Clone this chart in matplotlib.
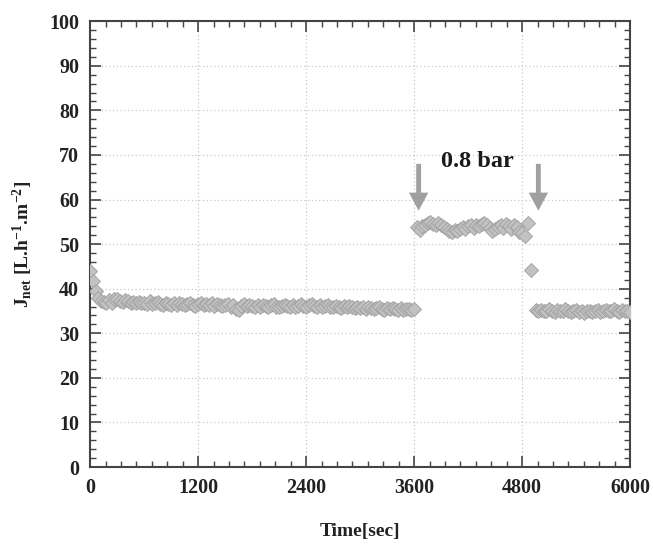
import numpy as np
import matplotlib
matplotlib.use("Agg")
import matplotlib.pyplot as plt
from matplotlib.ticker import MultipleLocator, AutoMinorLocator

# ---- data ----
step = 30
t1_start = 0
j1 = [44.0, 41.8, 39.5, 38.0, 37.3, 37.0, 36.8, 37.4, 36.9, 37.6,
      37.8, 37.3, 37.0, 37.5, 37.2, 36.9, 37.1, 36.8, 37.0, 36.7,
      36.9, 36.6, 37.2, 36.5, 36.8, 37.0, 36.6, 36.4, 36.9, 36.5,
      36.3, 36.7, 36.4, 36.8, 36.5, 36.3, 36.6, 36.9, 36.4, 36.2,
      36.5, 36.7, 36.3, 36.6, 36.4, 36.8, 36.2, 36.5, 36.3, 36.1,
      36.4, 36.6, 36.0, 36.3, 35.5, 35.2, 36.2, 36.5, 36.1, 36.4,
      36.2, 35.9, 36.3, 36.0, 36.4, 36.1, 35.8, 36.3, 36.5, 36.0,
      35.8, 36.2, 36.4, 36.1, 35.9, 36.3, 36.0, 36.2, 36.5, 36.1,
      35.9, 36.4, 36.6, 36.2, 36.0, 36.3, 35.9, 36.1, 36.4, 36.0,
      35.8, 36.2, 36.0, 35.7, 36.1, 35.9, 36.2, 35.8, 35.6, 36.0,
      35.7, 35.9, 35.5, 35.8, 35.6, 35.4, 35.7, 35.9, 35.5, 35.3,
      35.6, 35.4, 35.7, 35.5, 35.2, 35.6, 35.3, 35.5, 35.4, 35.2, 35.4]
t2_start = 3630
j2 = [53.8, 53.2, 54.0, 54.4, 54.8, 55.0, 54.6, 54.2, 54.8, 54.3,
      53.8, 53.4, 53.0, 52.7, 53.2, 53.0, 53.5, 53.8, 53.4, 54.0,
      54.2, 53.7, 54.4, 54.0, 54.6, 54.8, 54.2, 53.6, 53.0, 53.4,
      53.9, 54.2, 53.6, 54.5, 54.0, 53.5, 54.3, 53.8, 52.8, 52.4, 51.8]
t_trans = [4870, 4900]
j_trans = [54.7, 44.2]
t3_start = 4950
j3 = [35.2, 35.0, 35.3, 34.9, 35.1, 35.4, 35.0, 34.8, 35.2, 34.9,
      35.0, 35.5, 35.1, 34.7, 34.9, 35.2, 34.8, 35.0, 34.6, 34.9,
      35.1, 34.8, 35.0, 35.3, 34.7, 35.0, 35.2, 34.9, 35.1, 35.4,
      35.0, 34.8, 35.2, 35.0, 34.9, 34.8]
arrow_times = [3650, 4980]
arrow_top = 68
arrow_tip = 57.5
label_text = "0.8 bar"
label_pos = (4300, 68.5)

t1 = t1_start + step * np.arange(len(j1))
t2 = t2_start + step * np.arange(len(j2))
t3 = t3_start + step * np.arange(len(j3))
t_all = np.concatenate([t1, t2, t_trans, t3])
j_all = np.concatenate([j1, j2, j_trans, j3])

plt.rcParams['font.family'] = ['Liberation Serif', 'DejaVu Serif']
plt.rcParams['mathtext.fontset'] = 'custom'
plt.rcParams['mathtext.rm'] = 'Liberation Serif:bold'
plt.rcParams['mathtext.bf'] = 'Liberation Serif:bold'
plt.rcParams['mathtext.default'] = 'bf'

fig = plt.figure(figsize=(6.53, 5.44), dpi=100)
ax = fig.add_axes([0.138, 0.1415, 0.827, 0.8195])

ax.plot(t_all, j_all, linestyle='none', marker='D', markersize=7.5,
        markerfacecolor='#c2c2c2', markeredgecolor='#a4a4a4', markeredgewidth=0.7,
        zorder=3)

for ta in arrow_times:
    ax.annotate('', xy=(ta, arrow_tip), xytext=(ta, arrow_top),
                arrowprops=dict(facecolor='#a0a0a0', edgecolor='none',
                                width=3.5, headwidth=14, headlength=13),
                zorder=4)
ax.text(label_pos[0], label_pos[1], label_text, ha='center', va='center',
        fontsize=17.5, fontweight='bold', color='#1a1a1a')

ax.set_xlim(0, 6000)
ax.set_ylim(0, 100)
ax.xaxis.set_major_locator(MultipleLocator(1200))
ax.xaxis.set_minor_locator(AutoMinorLocator(7))
ax.yaxis.set_major_locator(MultipleLocator(10))
ax.yaxis.set_minor_locator(AutoMinorLocator(5))
ax.tick_params(which='both', direction='in', top=True, right=True,
               color='#444444', labelsize=14.5, labelcolor='#222222')
ax.tick_params(which='major', length=8, width=1.2, pad=8)
ax.tick_params(which='minor', length=4, width=1.0)
for lab in ax.get_xticklabels() + ax.get_yticklabels():
    lab.set_fontweight('bold')
for sp in ax.spines.values():
    sp.set_color('#444444')
    sp.set_linewidth(1.5)
ax.grid(True, which='major', linestyle=(0, (1, 2)), color='#c8c8c8', linewidth=0.9)
ax.set_axisbelow(True)

ax.set_xlabel('Time[sec]', fontsize=14, fontweight='bold', color='#222222', labelpad=18)
ax.set_ylabel(r'J$_{\mathbf{net}}$ [L.h$^{\mathbf{-1}}$.m$^{\mathbf{-2}}$]', fontsize=14,
              fontweight='bold', color='#222222', labelpad=10)

fig.savefig('out.png', dpi=100)
